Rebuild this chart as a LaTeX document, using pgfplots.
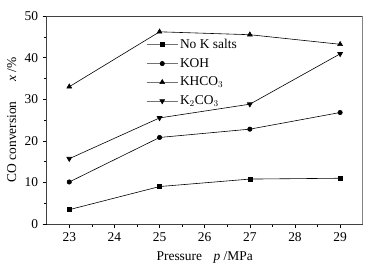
\documentclass[border=0pt]{standalone}
\usepackage{fontspec}
\setmainfont{Liberation Serif}
\usepackage{pgfplots}
\pgfplotsset{compat=1.18}
\begin{document}
\fontsize{13.5}{16}\selectfont
\begin{tikzpicture}
\begin{axis}[
  scale only axis,
  width=316bp, height=208bp,
  xmin=22.5, xmax=29.5, ymin=0, ymax=50,
  xtick={23,24,...,29}, ytick={0,10,...,50},
  minor x tick num=1, minor y tick num=1,
  axis x line*=bottom, axis y line*=left,
  tick align=outside,
  major tick length=4bp, minor tick length=2.5bp,
  tick style={black, line width=0.5pt},
  axis line style={black!75, line width=0.6pt},
  /pgf/number format/assume math mode=true,
  ticklabel style={font=\fontsize{13.5}{16}\selectfont},
  label style={font=\fontsize{13.5}{16}\selectfont},
  xlabel={Pressure\hspace{0.6em} \textit{p} /MPa},
  ylabel={CO conversion\hspace{1.2em} \textit{x} /\%},
  xlabel style={yshift=-1bp},
  ylabel style={yshift=-1bp},
  every axis plot/.append style={black, line width=0.6pt, mark options={solid, fill=black}},
  legend style={draw=none, fill=none, at={(0.315,0.9)}, anchor=north west,
    font=\fontsize{13.5}{16}\selectfont, row sep=3.8bp, inner sep=0pt},
  legend cell align=left,
  legend image code/.code={%
    \draw[#1, draw=black!55, mark=none] (0bp,0bp) -- (31bp,0bp);
    \draw[#1, only marks] plot coordinates {(15.5bp,0bp)};},
]
\addplot[mark=square*, mark size=2pt] coordinates {(23,3.45) (25,9.0) (27,10.8) (29,11.0)};
\addlegendentry{No K salts}
\addplot[mark=*, mark size=2.2pt] coordinates {(23,10.1) (25,20.8) (27,22.8) (29,26.8)};
\addlegendentry{KOH}
\addplot[mark=triangle*, mark size=2.8pt] coordinates {(23,33.0) (25,46.2) (27,45.5) (29,43.2)};
\addlegendentry{KHCO$_3$}
\addplot[mark=triangle*, mark size=2.8pt, mark options={rotate=180}] coordinates {(23,15.7) (25,25.5) (27,28.8) (29,40.9)};
\addlegendentry{K$_2$CO$_3$}
\draw[black!75, line width=0.6pt] (rel axis cs:0,1) -- (rel axis cs:1,1) -- (rel axis cs:1,0);
\end{axis}
\path[use as bounding box] ([xshift=-46.7bp,yshift=-43bp]current axis.south west) rectangle ([xshift=25.3bp,yshift=16bp]current axis.north east);
\end{tikzpicture}
\end{document}
